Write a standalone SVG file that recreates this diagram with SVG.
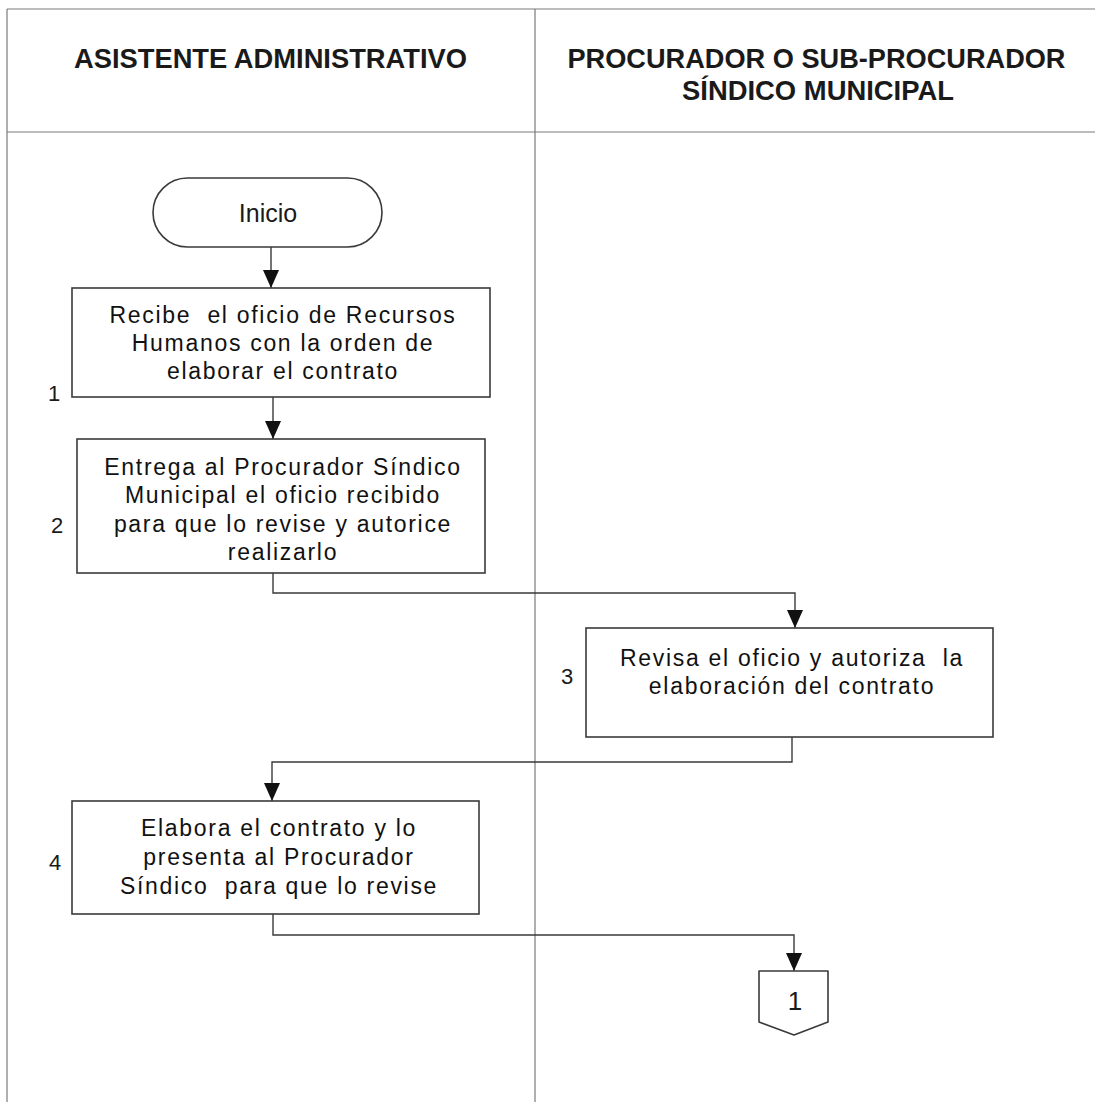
<svg xmlns="http://www.w3.org/2000/svg" width="1095" height="1102" viewBox="0 0 1095 1102">
  <style>
    .frame { stroke: #7a7a7a; stroke-width: 1.2; fill: none; }
    .shape { fill: #ffffff; stroke: #3a3a3a; stroke-width: 1.6; }
    .conn { fill: none; stroke: #3a3a3a; stroke-width: 1.4; }
    .hdr { font-family: "Liberation Sans", Arial, sans-serif; font-size: 27px; font-weight: bold; fill: #1a1a1a; text-anchor: middle; }
    .txt { font-family: "Liberation Sans", Arial, sans-serif; font-size: 23px; letter-spacing: 1.7px; fill: #111111; text-anchor: middle; }
    .num { font-family: "Liberation Sans", Arial, sans-serif; font-size: 22px; fill: #1a1a1a; text-anchor: middle; }
  </style>
  <defs>
    <marker id="arrowDown" markerUnits="userSpaceOnUse" markerWidth="16" markerHeight="18" viewBox="0 0 16 18" refX="8" refY="18" orient="0">
      <path d="M0,0 L16,0 L8,18 Z" fill="#111111"/>
    </marker>
  </defs>
  <rect x="0" y="0" width="1095" height="1102" fill="#ffffff"/>

  <g id="frame">
    <line class="frame" x1="7" y1="9" x2="1095" y2="9"/>
    <line class="frame" x1="7" y1="9" x2="7" y2="1102"/>
    <line class="frame" x1="535" y1="9" x2="535" y2="1102"/>
    <line class="frame" x1="7" y1="132" x2="1095" y2="132"/>
  </g>

  <g id="lane-headers">
    <text class="hdr" x="270.5" y="68" textLength="393" lengthAdjust="spacingAndGlyphs">ASISTENTE ADMINISTRATIVO</text>
    <text class="hdr" x="816.5" y="68" textLength="498" lengthAdjust="spacingAndGlyphs">PROCURADOR O SUB-PROCURADOR</text>
    <text class="hdr" x="818" y="100" textLength="272" lengthAdjust="spacingAndGlyphs">SÍNDICO MUNICIPAL</text>
  </g>

  <g id="connectors">
    <path class="conn" d="M271,247 L271,288" marker-end="url(#arrowDown)"/>
    <path class="conn" d="M273,397 L273,439" marker-end="url(#arrowDown)"/>
    <path class="conn" d="M273,573 L273,593 L795,593 L795,628" marker-end="url(#arrowDown)"/>
    <path class="conn" d="M792,737 L792,762 L272,762 L272,801" marker-end="url(#arrowDown)"/>
    <path class="conn" d="M273,914 L273,935 L794,935 L794,971" marker-end="url(#arrowDown)"/>
  </g>

  <g id="inicio">
    <rect class="shape" x="153" y="178" width="229" height="69" rx="34.5" ry="34.5"/>
    <text class="num" x="268" y="222" style="font-size:25px">Inicio</text>
  </g>

  <g id="step1">
    <rect class="shape" x="72" y="288" width="418" height="109"/>
    <text class="txt" x="283" y="323" xml:space="preserve">Recibe  el oficio de Recursos</text>
    <text class="txt" x="283" y="351">Humanos con la orden de</text>
    <text class="txt" x="283" y="379">elaborar el contrato</text>
    <text class="num" x="54" y="401">1</text>
  </g>

  <g id="step2">
    <rect class="shape" x="77" y="439" width="408" height="134"/>
    <text class="txt" x="283" y="475">Entrega al Procurador Síndico</text>
    <text class="txt" x="283" y="503">Municipal el oficio recibido</text>
    <text class="txt" x="283" y="532">para que lo revise y autorice</text>
    <text class="txt" x="283" y="560">realizarlo</text>
    <text class="num" x="57" y="533">2</text>
  </g>

  <g id="step3">
    <rect class="shape" x="586" y="628" width="407" height="109"/>
    <text class="txt" x="792" y="666" xml:space="preserve">Revisa el oficio y autoriza  la</text>
    <text class="txt" x="792" y="694">elaboración del contrato</text>
    <text class="num" x="567" y="684">3</text>
  </g>

  <g id="step4">
    <rect class="shape" x="72" y="801" width="407" height="113"/>
    <text class="txt" x="279" y="836">Elabora el contrato y lo</text>
    <text class="txt" x="279" y="865">presenta al Procurador</text>
    <text class="txt" x="279" y="894" xml:space="preserve">Síndico  para que lo revise</text>
    <text class="num" x="55" y="870">4</text>
  </g>

  <g id="offpage1">
    <path class="shape" d="M759,971 L828,971 L828,1022 L794,1035 L759,1022 Z" stroke-linejoin="round"/>
    <text class="num" x="795" y="1010" style="font-size:26px">1</text>
  </g>
</svg>
